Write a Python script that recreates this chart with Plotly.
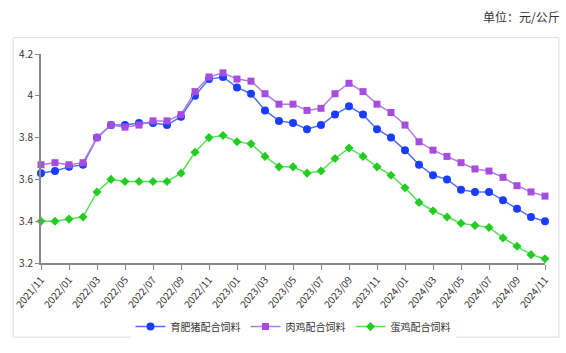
import plotly.graph_objects as go

months = [f"{y}/{m:02d}" for y, m in
          [(2021, 11), (2021, 12)] + [(2022, i) for i in range(1, 13)] +
          [(2023, i) for i in range(1, 13)] + [(2024, i) for i in range(1, 12)]]

pig = [3.63, 3.64, 3.66, 3.67, 3.80, 3.86, 3.86, 3.87, 3.87, 3.86, 3.90, 4.00, 4.08,
       4.09, 4.04, 4.01, 3.93, 3.88, 3.87, 3.84, 3.86, 3.91, 3.95, 3.91, 3.84, 3.80,
       3.74, 3.67, 3.62, 3.60, 3.55, 3.54, 3.54, 3.50, 3.46, 3.42, 3.40]
broiler = [3.67, 3.68, 3.67, 3.68, 3.80, 3.86, 3.85, 3.86, 3.88, 3.88, 3.91, 4.02, 4.09,
           4.11, 4.08, 4.07, 4.01, 3.96, 3.96, 3.93, 3.94, 4.01, 4.06, 4.02, 3.96, 3.92,
           3.86, 3.78, 3.74, 3.71, 3.68, 3.65, 3.64, 3.61, 3.57, 3.54, 3.52]
layer = [3.40, 3.40, 3.41, 3.42, 3.54, 3.60, 3.59, 3.59, 3.59, 3.59, 3.63, 3.73, 3.80,
         3.81, 3.78, 3.77, 3.71, 3.66, 3.66, 3.63, 3.64, 3.70, 3.75, 3.71, 3.66, 3.62,
         3.56, 3.49, 3.45, 3.42, 3.39, 3.38, 3.37, 3.32, 3.28, 3.24, 3.22]

names = ["育肥猪配合饲料", "肉鸡配合饲料", "蛋鸡配合饲料"]
tick_labels = months[::2]
y_ticks = [3.2, 3.4, 3.6, 3.8, 4.0, 4.2]

FONT = "Noto Sans CJK SC"

fig = go.Figure()
fig.add_trace(go.Scatter(x=months, y=pig, name=names[0], mode="lines+markers",
                         line=dict(color="#4f72f5", width=1.5),
                         marker=dict(symbol="circle", size=8, color="#1a3cff"),
                         cliponaxis=False))
fig.add_trace(go.Scatter(x=months, y=broiler, name=names[1], mode="lines+markers",
                         line=dict(color="#b57ae6", width=1.5),
                         marker=dict(symbol="square", size=7, color="#a64de0"),
                         cliponaxis=False))
fig.add_trace(go.Scatter(x=months, y=layer, name=names[2], mode="lines+markers",
                         line=dict(color="#55e055", width=1.5),
                         marker=dict(symbol="diamond", size=7, color="#22cc22"),
                         cliponaxis=False))

pw, ph = 508, 217
fig.add_shape(type="rect", xref="paper", yref="paper",
              x0=(9 - 37) / pw, x1=(559 - 37) / pw,
              y0=(271 - 348) / ph, y1=(271 - 37) / ph,
              line=dict(color="#dddddd", width=1), layer="below")
fig.add_annotation(text="单位：元/公斤", xref="paper", yref="paper",
                   x=(562 - 37) / pw, y=(271 - 15) / ph, xanchor="right", yanchor="middle",
                   showarrow=False, font=dict(size=12, color="#333333", family=FONT))

fig.update_layout(
    width=566, height=353,
    margin=dict(l=37, r=21, t=54, b=82),
    paper_bgcolor="white", plot_bgcolor="white",
    font=dict(family=FONT, size=10, color="#333333"),
    showlegend=True,
    legend=dict(orientation="h", x=0.5, xanchor="center", y=-0.235, yanchor="top",
                font=dict(size=10, color="#333333"), itemwidth=30,
                traceorder="normal"),
    xaxis=dict(type="category", range=[0, len(months) - 1],
               tickmode="array", tickvals=tick_labels, ticktext=tick_labels,
               tickangle=-50, ticks="outside", ticklen=5, tickcolor="#888888",
               showline=True, linecolor="#888888", linewidth=2,
               showgrid=False, zeroline=False, tickfont=dict(size=10)),
    yaxis=dict(range=[3.2, 4.2], tickmode="array", tickvals=y_ticks,
               ticks="outside", ticklen=4, tickcolor="#888888",
               showline=True, linecolor="#888888", linewidth=2,
               showgrid=False, zeroline=False, tickfont=dict(size=10)),
)

fig.write_html("out.html")
